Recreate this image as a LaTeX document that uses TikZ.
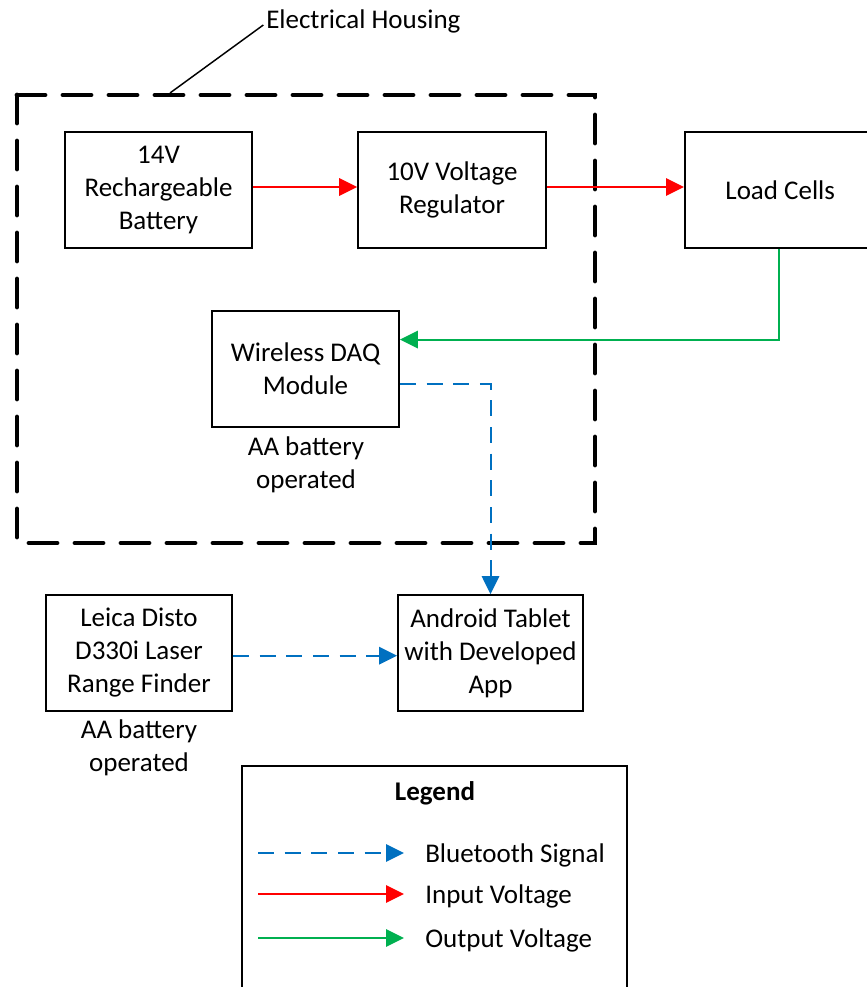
\documentclass[tikz,border=0pt]{standalone}
\usepackage{fontspec}
\setmainfont{Carlito}
\usetikzlibrary{arrows.meta,calc}
\definecolor{vred}{RGB}{255,0,0}
\definecolor{vgreen}{RGB}{0,176,80}
\definecolor{vblue}{RGB}{0,112,192}
\tikzset{
  blk/.style={draw=black,line width=1.3pt,align=center,inner sep=0pt,font=\fontsize{20.25}{24.75}\selectfont},
  lbl/.style={align=center,inner sep=0pt,font=\fontsize{20.25}{24.75}\selectfont},
  tip/.style={-{Triangle[length=13.5pt,width=13pt]}},
  redarrow/.style={tip,draw=vred,line width=1.5pt},
  greenarrow/.style={tip,draw=vgreen,line width=1.5pt},
  bluearrow/.style={tip,draw=vblue,line width=1.5pt,dash pattern=on 12pt off 8pt},
  housing/.style={draw=black,line width=3.6pt,line cap=round,dash pattern=on 21pt off 13.5pt}
}
\begin{document}
\begin{tikzpicture}[x=0.75pt,y=-0.75pt]
\useasboundingbox (0,0) rectangle (866,987);
% housing
\draw[housing] (17,95) rectangle (595,543);
\node[lbl,anchor=west] (eh) at (266,21) {Electrical Housing};
\coordinate (hp) at (170,93);
\draw[line width=1.1pt] (hp) -- ([xshift=-2pt,yshift=-3pt]eh.west);
% blocks
\node[blk,minimum width=140.25pt,minimum height=87pt] (bat) at (158.5,190) {14V\\Rechargeable\\Battery};
\node[blk,minimum width=141pt,minimum height=87pt] (reg) at (452,190) {10V Voltage\\Regulator};
\node[blk,minimum width=137pt,minimum height=87pt,anchor=west] (load) at (684,190) {\hspace*{6pt}Load Cells};
\node[blk,minimum width=140.25pt,minimum height=87pt] (daq) at (305.5,369) {Wireless DAQ\\Module};
\node[lbl] (daqnote) at (306,465) {AA battery\\operated};
\node[blk,minimum width=138.75pt,minimum height=87pt] (tab) at (490.5,653) {Android Tablet\\with Developed\\App};
\node[blk,minimum width=139.5pt,minimum height=87pt] (leica) at (139,653) {Leica Disto\\D330i Laser\\Range Finder};
\node[lbl] (leicanote) at (139,748) {AA battery\\operated};
% connectors
\draw[redarrow] ([yshift=2.25pt]bat.east) -- ([yshift=2.25pt]reg.west);
\draw[redarrow] ([yshift=2.25pt]reg.east) -- ([yshift=2.25pt]load.west);
\draw[greenarrow] ([xshift=2.25pt]load.south) |- ($(daq.north east)!0.25!(daq.south east)$);
\draw[bluearrow] ($(daq.north east)!0.63!(daq.south east)$) -| (tab.north);
\draw[bluearrow] ([yshift=-2pt]leica.east) -- ([yshift=-2pt]tab.west);
% legend
\draw[line width=1.3pt] (242,766) rectangle (627,1010);
\node[lbl,font=\fontsize{20.25}{24.75}\selectfont\bfseries] (leg) at (435,793) {Legend};
\coordinate (b1) at (258,853); \coordinate (b2) at (404,853);
\coordinate (r1) at (258,894); \coordinate (r2) at (404,894);
\coordinate (g1) at (258,938); \coordinate (g2) at (404,938);
\draw[bluearrow] (b1) -- (b2);
\draw[redarrow] (r1) -- (r2);
\draw[greenarrow] (g1) -- (g2);
\node[lbl,anchor=west] (lb) at (425,855) {Bluetooth Signal};
\node[lbl,anchor=west] (lr) at (425,896) {Input Voltage};
\node[lbl,anchor=west] (lg) at (425,940) {Output Voltage};
\end{tikzpicture}
\end{document}
